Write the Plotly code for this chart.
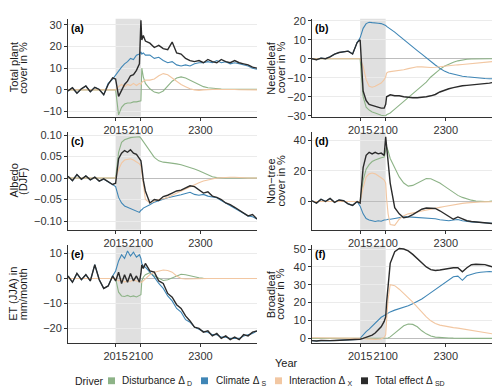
import plotly.graph_objects as go

# shared time axis (simulation years)
years = [1855, 1870, 1885, 1900, 1915, 1930, 1945, 1960, 1975, 1990, 2005,
         2015, 2025, 2035, 2045, 2055, 2065, 2075, 2085, 2095, 2100,
         2103, 2108, 2115, 2130, 2145, 2160, 2175, 2190, 2205, 2220, 2235,
         2250, 2265, 2280, 2295, 2310, 2325, 2340, 2355, 2370, 2385, 2400,
         2415, 2430, 2445, 2460, 2475, 2490]

# (a) total plant cover
a_dist = [0]*11 + [0, -11.5, -8.0, -6.5, -6.0, -6.0, -5.5, -5.5, -5.0, -5.0,
          10.0, 6.0, 3.0, 0.5, -1.0, -1.5, -0.5, 2.0, 4.0, 5.5, 6.0, 5.5, 4.5, 3.5,
          2.5, 1.5, 1.0, 0.7, 0.5, 0.4, 0.3, 0.3, 0.3, 0.3, 0.3, 0.3, 0.3, 0.3]
a_clim = [-0.5, 1.0, -1.5, 0.5, 1.8, -0.8, 1.2, 0.2, -2.2, 3.0, 5.0,
          7.0, 9.0, 10.5, 12.0, 13.0, 14.5, 14.0, 16.0, 16.5, 17.5,
          16.5, 17.0, 16.0, 16.0, 14.5, 15.0, 13.5, 12.5, 13.0, 11.5, 11.0, 11.5, 11.0,
          12.0, 12.5, 12.5, 13.0, 12.5, 13.5, 12.5, 13.0, 12.0, 12.5, 12.0, 11.5, 11.0, 10.0, 9.5]
a_inter = [0]*11 + [0, 1.5, 2.5, 1.5, 2.5, 2.0, 3.0, 2.0, 3.0, 2.5,
           3.5, 4.0, 4.5, 4.5, 5.0, 6.5, 7.5, 7.0, 5.5, 4.0, 2.5, 1.5, 0.5, 0.0,
           -0.2, 0.0, 0.2, 0.2, 0.3, 0.2, 0.3, 0.2, 0.2, 0.1, 0.1, 0.0, 0.0, 0.0]
a_total = [-0.5, 1.0, -1.5, 0.5, 1.8, -0.8, 1.2, 0.2, -2.2, 2.5, 5.5,
           5.0, -3.0, 0.0, 2.5, 4.0, 6.5, 7.0, 9.0, 12.0, 32.0,
           23.0, 25.0, 22.5, 21.5, 19.5, 20.5, 19.0, 18.5, 22.0, 17.0, 16.5, 14.5, 13.5,
           13.0, 13.5, 12.5, 14.0, 13.0, 12.5, 14.0, 13.0, 12.5, 13.5, 12.5, 12.0, 11.5, 10.5, 10.0]

# (b) needleleaf cover
b_dist = [0]*11 + [0, -20.0, -25.5, -27.0, -28.0, -28.5, -29.2, -29.7, -30.0, -30.0,
          -29.5, -29.0, -28.5, -26.5, -24.5, -22.5, -20.2, -18.0, -16.2, -14.5, -12.3,
          -9.6, -7.5, -5.6, -4.0, -2.8, -1.8, -1.1, -0.6, -0.3, -0.1, 0, 0, 0, 0, 0, 0, 0]
b_clim = [0.0, -0.5, 0.3, 0.0, 1.0, 2.4, 3.3, 3.6, 4.0, 2.5, 8.5,
          11.0, 16.0, 18.5, 19.2, 19.0, 19.0, 18.7, 18.5, 18.0, 17.5,
          17.0, 16.5, 15.8, 14.0, 12.0, 10.2, 8.3, 6.2, 4.3, 2.4, 0.4, -1.5, -3.3,
          -5.0, -6.5, -7.5, -8.2, -8.8, -9.2, -9.5, -9.8, -10.0, -10.2, -10.4, -10.5, -10.6, -10.7, -10.8]
b_inter = [0]*11 + [0, -4.0, -11.0, -14.5, -15.0, -14.5, -13.8, -12.8, -11.0, -9.5,
           -7.5, -7.0, -6.8, -6.5, -6.2, -5.8, -5.2, -4.6, -4.2, -4.3, -4.5, -4.6, -4.5,
           -4.2, -3.8, -3.6, -3.4, -3.2, -3.0, -2.8, -2.7, -2.5, -2.2, -1.9, -1.6, -1.4, -1.2, -1.0]
b_total = [0.0, -0.5, 0.3, 0.0, 1.0, 2.4, 3.3, 3.6, 4.0, 2.5, 8.5,
           10.0, -17.0, -22.0, -24.0, -24.5, -25.0, -25.5, -26.0, -26.0, -24.0,
           -20.0, -19.5, -19.0, -19.5, -19.5, -20.0, -20.3, -20.5, -20.5, -20.3, -20.0, -19.5, -18.8,
           -17.5, -16.5, -15.8, -15.2, -14.5, -14.2, -14.0, -13.8, -13.6, -13.5, -13.3, -12.8, -12.4, -12.0, -11.7]

# (c) albedo (DJF)
c_dist = [0]*11 + [0, 0.060, 0.083, 0.089, 0.092, 0.094, 0.095, 0.096, 0.096, 0.093,
          0.090, 0.085, 0.078, 0.063, 0.048, 0.040, 0.037, 0.036, 0.035, 0.033, 0.031,
          0.028, 0.025, 0.021, 0.017, 0.012, 0.007, 0.003, 0.001, 0, 0, 0, 0, 0, 0, 0, 0, 0]
c_clim = [0.004, -0.006, 0.008, -0.003, 0.005, -0.004, 0.002, -0.007, -0.002, -0.008, -0.015,
          -0.020, -0.045, -0.058, -0.065, -0.068, -0.072, -0.074, -0.078, -0.080, -0.075,
          -0.074, -0.070, -0.068, -0.062, -0.056, -0.052, -0.049, -0.046, -0.044, -0.041, -0.039,
          -0.036, -0.033, -0.038, -0.040, -0.038, -0.042, -0.044, -0.046, -0.052, -0.058, -0.064,
          -0.070, -0.076, -0.082, -0.088, -0.090, -0.095]
c_inter = [0]*11 + [0, 0.020, 0.035, 0.042, 0.044, 0.045, 0.042, 0.038, 0.033, 0.028,
           0.010, -0.020, -0.050, -0.058, -0.054, -0.050, -0.048, -0.045, -0.040, -0.035, -0.030,
           -0.025, -0.020, -0.016, -0.011, -0.007, -0.004, -0.002, 0.0, 0.001, 0.002, 0.002,
           0.002, 0.001, 0.001, 0.0, 0.0, 0.0]
c_total = [0.004, -0.006, 0.008, -0.003, 0.005, -0.004, 0.002, -0.007, -0.002, -0.008, -0.015,
           -0.012, 0.045, 0.058, 0.064, 0.060, 0.066, 0.058, 0.055, 0.045, 0.040,
           0.025, -0.005, -0.030, -0.058, -0.050, -0.052, -0.043, -0.040, -0.035, -0.030, -0.028,
           -0.022, -0.018, -0.020, -0.028, -0.035, -0.032, -0.042, -0.045, -0.050, -0.058, -0.062,
           -0.068, -0.075, -0.080, -0.088, -0.085, -0.095]

# (d) non-tree cover
d_dist = [0]*11 + [0, 14.0, 21.0, 24.0, 26.0, 27.0, 28.0, 28.5, 29.0, 33.0,
          35.5, 33.0, 28.0, 22.0, 16.0, 12.0, 10.0, 10.5, 12.0, 14.0, 15.0, 14.8, 13.5,
          12.0, 10.0, 7.8, 5.8, 4.0, 2.7, 1.6, 0.9, 0.4, 0.1, 0.0, 0.1, 0.3, 0.6, 0.9]
d_clim = [0.5, -1.0, 1.5, 0.0, 2.0, -0.5, 1.0, 0.5, -1.5, -2.5, 0.0,
          -3.0, -8.0, -11.0, -12.0, -12.5, -13.0, -12.5, -12.8, -12.0, -12.0,
          -11.8, -11.5, -11.5, -11.0, -10.5, -10.0, -10.0, -10.2, -10.0, -10.5, -10.8, -11.0, -11.2,
          -11.8, -12.3, -12.5, -12.0, -11.7, -12.5, -13.0, -13.2, -13.4, -13.5, -13.6, -13.8, -14.2, -14.8, -15.5]
d_inter = [0]*11 + [0, 9.0, 16.0, 18.0, 18.5, 18.0, 17.0, 15.5, 14.0, 12.0,
           2.0, -8.0, -15.0, -15.5, -11.5, -9.2, -8.0, -7.2, -6.8, -6.2, -5.5, -4.8, -4.2,
           -3.8, -3.2, -2.6, -2.1, -1.7, -1.2, -0.9, -0.6, -0.4, -0.3, -0.2, -0.1, 0, 0, 0]
d_total = [0.5, -1.0, 1.5, 0.0, 2.0, -0.5, 1.0, 0.5, -1.5, -2.5, 0.0,
           -1.0, 22.0, 30.0, 32.0, 31.0, 32.0, 31.0, 31.5, 30.0, 42.0,
           36.0, 26.0, 12.0, -4.0, -8.0, -10.5, -10.0, -8.5, -6.5, -5.0, -4.2, -4.5, -4.5,
           -6.0, -8.0, -10.0, -11.5, -10.0, -11.5, -12.5, -13.0, -13.3, -13.5, -13.5, -13.8, -14.2, -14.6, -15.0]

# (e) ET (JJA)
e_dist = [0]*11 + [0, -5.5, -7.0, -7.2, -6.8, -7.3, -7.0, -7.4, -7.0, -6.5,
          -1.0, 0.5, 1.5, 2.3, 1.0, 0.2, -0.8, -0.5, 0.3, 1.2, 1.7, 1.5, 1.0, 0.6, 0.3,
          0.1, 0.1, 0, 0, 0, 0, 0, 0, 0, 0, 0, 0, 0]
e_clim = [1.0, -1.5, 2.0, -0.5, 1.5, -1.0, 5.5, -0.5, -4.0, -3.0, 1.0,
          3.0, 7.0, 9.5, 8.0, 11.0, 9.0, 10.5, 8.5, 9.5, 8.0,
          6.0, 5.0, 4.5, 2.5, 0.5, -2.0, -4.0, -7.0, -9.0, -12.0, -13.5, -16.5, -17.5,
          -19.5, -20.3, -21.2, -21.5, -22.5, -22.5, -23.5, -23.5, -24.0, -24.0, -24.0, -23.0, -22.5, -22.0, -21.0]
e_inter = [0]*11 + [0, -1.0, -0.5, -1.5, -0.8, -1.2, -0.5, -1.0, -1.5, -1.5,
           -1.5, -1.0, 0.0, 1.5, 2.5, 3.0, 3.4, 3.2, 2.5, 1.0, 0.0, -0.2, -0.1,
           0, 0, 0, 0, 0, 0, 0, 0, 0, 0, 0, 0, 0, 0, 0]
e_total = [1.0, -1.5, 2.0, -0.5, 1.5, -1.0, 5.5, -0.5, -4.0, -3.0, 1.0,
           -1.0, 2.5, -2.0, 1.5, -1.5, 2.0, -1.0, 1.0, -1.5, 2.0,
           5.5, 4.0, 6.0, 3.0, 2.5, -1.0, -2.0, -6.0, -7.5, -10.5, -12.0, -15.0, -17.0,
           -19.5, -20.0, -21.5, -21.0, -23.0, -22.0, -24.0, -23.0, -24.5, -23.5, -24.5, -22.5, -23.0, -21.5, -21.0]

# (f) broadleaf cover
f_dist = [0]*21 + [0.0, 0.2, 0.8, 2.8, 5.0, 7.0, 8.0, 7.8, 6.5, 4.2, 2.5, 1.3, 0.7,
          0.4, 0.3, 0.2, 0.1, 0, 0, 0, 0, 0, 0, 0, 0, 0, 0, 0]
f_clim = [-1.3, -1.5, -1.2, -1.4, -1.3, -1.2, -1.1, -1.0, -1.0, -0.8, -0.6,
          0.0, 2.0, 3.8, 5.2, 6.8, 8.5, 10.2, 11.8, 12.8, 13.3,
          13.8, 14.3, 14.8, 15.8, 16.5, 17.3, 18.3, 19.4, 20.5, 22.0, 23.8, 25.6, 27.5,
          29.6, 31.4, 33.2, 34.5, 34.8, 32.5, 35.0, 36.0, 36.6, 37.0, 37.3, 37.4, 37.2, 36.8, 36.5]
f_inter = [0.3]*11 + [0.3, 0.0, -0.3, -0.5, -0.6, -0.6, -0.5, -0.3, 0.5, 2.0,
           10.0, 22.0, 30.0, 29.5, 27.5, 25.2, 22.8, 20.3, 17.5, 14.5, 12.0, 9.8, 8.3,
           7.4, 6.8, 6.3, 6.0, 5.7, 5.3, 4.9, 4.5, 4.2, 3.7, 3.2, 2.7, 2.3, 1.9, 1.6]
f_total = [-1.3, -1.5, -1.2, -1.4, -1.3, -1.2, -1.1, -1.0, -1.0, -0.8, -0.6,
           -0.5, 0.0, 0.5, 1.0, 1.8, 3.0, 4.5, 6.5, 9.5, 12.0,
           20.0, 30.0, 42.0, 48.5, 50.3, 50.0, 49.0, 47.0, 44.5, 42.0, 40.0, 38.5, 38.0,
           38.3, 38.8, 39.0, 39.5, 39.6, 37.3, 39.5, 41.2, 41.5, 41.6, 41.3, 40.5, 39.6, 39.0, 38.4]

drivers = ["Disturbance", "Climate", "Interaction", "Total effect"]
legend_labels = ["Disturbance Δ <sub>D</sub>", "Climate Δ <sub>S</sub>",
                 "Interaction Δ <sub>X</sub>", "Total effect Δ <sub>SD</sub>"]
colors = ["#8DB387", "#3F86B6", "#F2C7A2", "#2B2B2B"]

panel_series = [(a_dist, a_clim, a_inter, a_total), (b_dist, b_clim, b_inter, b_total),
                (c_dist, c_clim, c_inter, c_total), (d_dist, d_clim, d_inter, d_total),
                (e_dist, e_clim, e_inter, e_total), (f_dist, f_clim, f_inter, f_total)]
panel_tags = ["(a)", "(b)", "(c)", "(d)", "(e)", "(f)"]
y_titles = [("Total plant", "cover in %"), ("Needleleaf", "cover in %"),
            ("Albedo", "(DJF)"), ("Non\u2212tree", "cover in %"),
            ("ET (JJA) in", "mm/month"), ("Broadleaf", "cover in %")]
y_ticks = [[-10, 0, 10, 20, 30], [-30, -20, -10, 0, 10, 20],
           [-0.10, -0.05, 0.00, 0.05, 0.10], [0, 20, 40],
           [-20, -10, 0, 10], [0, 10, 20, 30, 40, 50]]
y_ranges = [[-12.25, 32.7], [-30.4, 21.0], [-0.1205, 0.1068],
            [-18.4, 45.1], [-25.9, 13.2], [-2.7, 52.0]]
x_ticks = [2015, 2100, 2300]
shade = [2015, 2100]

W, H = 500, 389
col_px = [(60, 249), (304, 495)]
row_px = [(7, 107), (123, 223), (239, 339)]
# rotated annotations land a few px right of their anchor, so these are compensated
title_x = [(5.5, 15.0), (263.0, 272.5)]
font = "Liberation Sans, Arial, sans-serif"

fig = go.Figure()
layout = {}
shapes = []
annotations = []

for i, series in enumerate(panel_series):
    r, c = divmod(i, 2)
    n = i + 1
    sfx = "" if n == 1 else str(n)
    for vals, col, name in zip(series, colors, drivers):
        fig.add_trace(go.Scatter(
            x=years, y=vals, mode="lines", name=name, showlegend=False,
            line=dict(color=col, width=1.4 if name == "Total effect" else 1.1),
            xaxis="x" + sfx, yaxis="y" + sfx))
    x0, x1 = col_px[c]
    top, bot = row_px[r]
    layout["xaxis" + sfx] = dict(
        domain=[x0 / W, x1 / W], range=[1855, 2490], anchor="y" + sfx,
        tickvals=x_ticks, tickangle=0, showgrid=False, zeroline=False,
        showline=True, linecolor="#333333", linewidth=1,
        ticks="outside", ticklen=3, tickcolor="#333333",
        tickfont=dict(size=11, color="#333333"))
    layout["yaxis" + sfx] = dict(
        domain=[1 - bot / H, 1 - top / H], range=y_ranges[i], anchor="x" + sfx,
        tickvals=y_ticks[i], tickformat=".2f" if n == 3 else None,
        showgrid=True, gridcolor="#EBEBEB", gridwidth=1,
        zeroline=True, zerolinecolor="#BDBDBD", zerolinewidth=1,
        showline=True, linecolor="#333333", linewidth=1,
        ticks="outside", ticklen=3, tickcolor="#333333",
        tickfont=dict(size=11, color="#333333"))
    shapes.append(dict(type="rect", xref="x" + sfx, yref="y" + sfx + " domain",
                       x0=shade[0], x1=shade[1], y0=0, y1=1, layer="below",
                       fillcolor="#E0E0E0", line=dict(width=0)))
    annotations.append(dict(text="<b>" + panel_tags[i] + "</b>", xref="paper", yref="paper",
                            x=(x0 + 1) / W, y=1 - (top + 9) / H, xanchor="left",
                            yanchor="middle", showarrow=False,
                            font=dict(size=10.5, color="black", family=font)))
    for line_text, tx in zip(y_titles[i], title_x[c]):
        annotations.append(dict(text=line_text, xref="paper", yref="paper",
                                x=tx / W, y=1 - (top + bot) / 2 / H, textangle=-90,
                                xanchor="center", yanchor="middle", showarrow=False,
                                font=dict(size=11, color="#1A1A1A", family=font)))

annotations.append(dict(text="Year", xref="paper", yref="paper", x=278 / W, y=1 - 359 / H,
                        xanchor="center", yanchor="middle", showarrow=False,
                        font=dict(size=11, color="#1A1A1A", family=font)))

# legend, drawn by hand so the spacing matches the original
annotations.append(dict(text="Driver", xref="paper", yref="paper", x=65 / W, y=1 - 378 / H,
                        xanchor="left", yanchor="middle", showarrow=False,
                        font=dict(size=10.5, color="#1A1A1A", family=font)))
key_x = [100, 193, 267, 353]
label_x = [112, 206, 279, 365]
for kx, lx, col, lab in zip(key_x, label_x, colors, legend_labels):
    shapes.append(dict(type="rect", xref="paper", yref="paper",
                       x0=kx / W, x1=(kx + 7) / W, y0=1 - 381 / H, y1=1 - 374 / H,
                       fillcolor=col, line=dict(width=0)))
    annotations.append(dict(text=lab, xref="paper", yref="paper", x=lx / W, y=1 - 378 / H,
                            xanchor="left", yanchor="middle", showarrow=False,
                            font=dict(size=10, color="#1A1A1A", family=font)))

fig.update_layout(**layout)
fig.update_layout(
    width=W, height=H, autosize=False, showlegend=False,
    margin=dict(l=0, r=0, t=0, b=0),
    paper_bgcolor="white", plot_bgcolor="white",
    font=dict(family=font, size=11, color="#333333"),
    shapes=shapes, annotations=annotations)

fig.write_html("out.html")
